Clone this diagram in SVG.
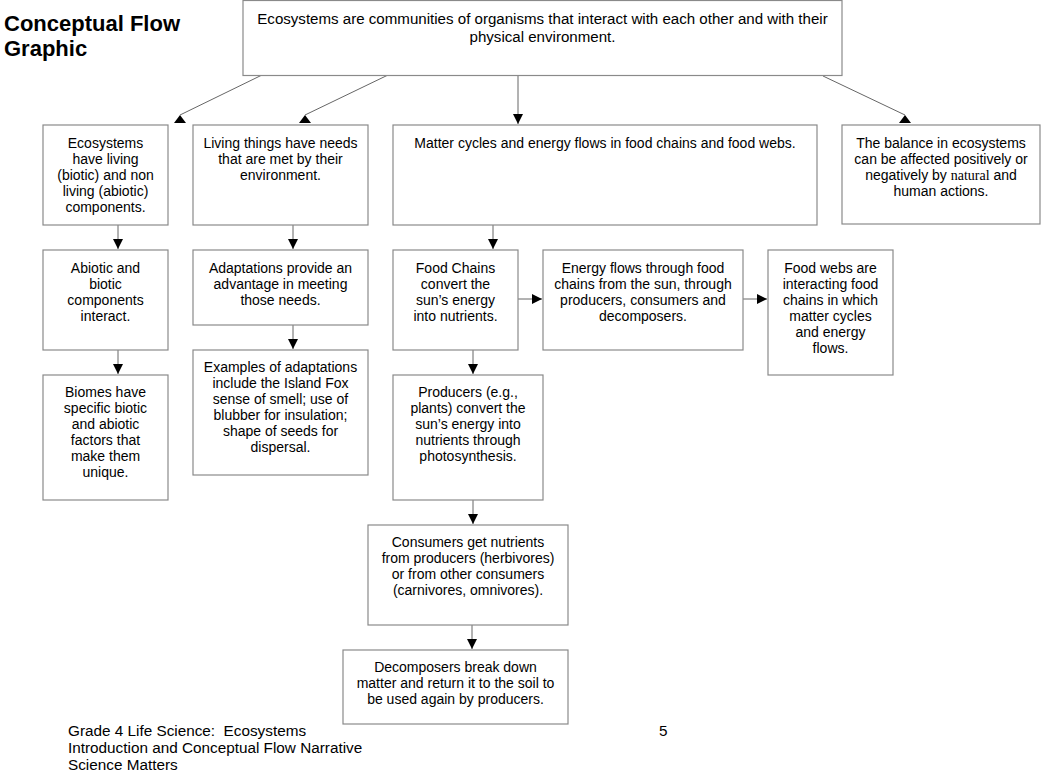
<svg xmlns="http://www.w3.org/2000/svg" width="1045" height="779" viewBox="0 0 1045 779">
<style>
.bg{fill:#ffffff}
.box{fill:#ffffff;stroke:#8a8a8a;stroke-width:1.2}
.t{font-family:"Liberation Sans",Arial,sans-serif;font-size:14px;fill:#000;text-anchor:middle}
.tt{font-family:"Liberation Sans",Arial,sans-serif;font-size:15.1px;fill:#000;text-anchor:middle}
.serif{font-family:"Liberation Serif","Times New Roman",serif}
.title{font-family:"Liberation Sans",Arial,sans-serif;font-size:22px;font-weight:bold;fill:#000}
.foot{font-family:"Liberation Sans",Arial,sans-serif;font-size:15.3px;fill:#000}
.ln{stroke:#666;stroke-width:1;fill:none}
.arr{marker-end:url(#ah)}
.up{marker-end:url(#ahup)}
</style>
<defs>
<marker id="ah" viewBox="0 0 10 10" refX="10" refY="5" markerWidth="10" markerHeight="10" markerUnits="userSpaceOnUse" orient="auto">
<path d="M0,0 L10,5 L0,10 z" fill="#000"/>
</marker>
<marker id="ahup" viewBox="0 0 8 12" refX="8" refY="6" markerWidth="8" markerHeight="12" markerUnits="userSpaceOnUse" orient="-90">
<path d="M0,0 L8,6 L0,12 z" fill="#000"/>
</marker>
</defs>
<rect class="bg" x="0" y="0" width="1045" height="779"/>

<g id="title">
<text class="title" x="4" y="31">Conceptual Flow</text>
<text class="title" x="4" y="56">Graphic</text>
</g>

<g id="connectors">
<line class="ln up" x1="262" y1="75" x2="180" y2="115"/>
<line class="ln up" x1="388" y1="75" x2="305" y2="115"/>
<line class="ln arr" x1="518" y1="75" x2="518" y2="124"/>
<line class="ln up" x1="823" y1="76" x2="905" y2="115"/>
<line class="ln arr" x1="118" y1="225" x2="118" y2="249"/>
<line class="ln arr" x1="293" y1="225" x2="293" y2="249"/>
<line class="ln arr" x1="493" y1="225" x2="493" y2="249"/>
<line class="ln arr" x1="118" y1="350" x2="118" y2="374"/>
<line class="ln arr" x1="293" y1="325" x2="293" y2="349"/>
<line class="ln arr" x1="518" y1="299" x2="542" y2="299"/>
<line class="ln arr" x1="743" y1="299" x2="767" y2="299"/>
<line class="ln arr" x1="473" y1="350" x2="473" y2="374"/>
<line class="ln arr" x1="473" y1="500" x2="473" y2="524"/>
<line class="ln arr" x1="472" y1="625" x2="472" y2="649"/>
</g>

<g id="n-top">
<rect class="box" x="243" y="0.5" width="599" height="75"/>
<text class="tt" x="542.5" y="24">Ecosystems are communities of organisms that interact with each other and with their</text>
<text class="tt" x="542.5" y="42">physical environment.</text>
</g>

<g id="n-biotic">
<rect class="box" x="43" y="125" width="125" height="100"/>
<text class="t" x="105.5" y="148">Ecosystems</text>
<text class="t" x="105.5" y="164">have living</text>
<text class="t" x="105.5" y="180">(biotic) and non</text>
<text class="t" x="105.5" y="196">living (abiotic)</text>
<text class="t" x="105.5" y="212">components.</text>
</g>

<g id="n-needs">
<rect class="box" x="193" y="125" width="175" height="100"/>
<text class="t" x="280.5" y="148">Living things have needs</text>
<text class="t" x="280.5" y="164">that are met by their</text>
<text class="t" x="280.5" y="180">environment.</text>
</g>

<g id="n-matter">
<rect class="box" x="393" y="125" width="424" height="100"/>
<text class="t" x="605" y="148">Matter cycles and energy flows in food chains and food webs.</text>
</g>

<g id="n-balance">
<rect class="box" x="842" y="125" width="198" height="99"/>
<text class="t" x="941" y="148">The balance in ecosystems</text>
<text class="t" x="941" y="164">can be affected positively or</text>
<text class="t" x="941" y="180">negatively by <tspan class="serif">natural</tspan> and</text>
<text class="t" x="941" y="196">human actions.</text>
</g>

<g id="n-abiotic">
<rect class="box" x="43" y="250" width="125" height="100"/>
<text class="t" x="105.5" y="273">Abiotic and</text>
<text class="t" x="105.5" y="289">biotic</text>
<text class="t" x="105.5" y="305">components</text>
<text class="t" x="105.5" y="321">interact.</text>
</g>

<g id="n-biomes">
<rect class="box" x="43" y="375" width="125" height="125"/>
<text class="t" x="105.5" y="397">Biomes have</text>
<text class="t" x="105.5" y="413">specific biotic</text>
<text class="t" x="105.5" y="429">and abiotic</text>
<text class="t" x="105.5" y="445">factors that</text>
<text class="t" x="105.5" y="461">make them</text>
<text class="t" x="105.5" y="477">unique.</text>
</g>

<g id="n-adapt">
<rect class="box" x="193" y="250" width="175" height="75"/>
<text class="t" x="280.5" y="273">Adaptations provide an</text>
<text class="t" x="280.5" y="289">advantage in meeting</text>
<text class="t" x="280.5" y="305">those needs.</text>
</g>

<g id="n-examples">
<rect class="box" x="193" y="350" width="175" height="125"/>
<text class="t" x="280.5" y="372">Examples of adaptations</text>
<text class="t" x="280.5" y="388">include the Island Fox</text>
<text class="t" x="280.5" y="404">sense of smell; use of</text>
<text class="t" x="280.5" y="420">blubber for insulation;</text>
<text class="t" x="280.5" y="436">shape of seeds for</text>
<text class="t" x="280.5" y="452">dispersal.</text>
</g>

<g id="n-foodchains">
<rect class="box" x="393" y="250" width="125" height="100"/>
<text class="t" x="455.5" y="273">Food Chains</text>
<text class="t" x="455.5" y="289">convert the</text>
<text class="t" x="455.5" y="305">sun’s energy</text>
<text class="t" x="455.5" y="321">into nutrients.</text>
</g>

<g id="n-energy">
<rect class="box" x="543" y="250" width="200" height="100"/>
<text class="t" x="643" y="273">Energy flows through food</text>
<text class="t" x="643" y="289">chains from the sun, through</text>
<text class="t" x="643" y="305">producers, consumers and</text>
<text class="t" x="643" y="321">decomposers.</text>
</g>

<g id="n-foodwebs">
<rect class="box" x="768" y="250" width="125" height="125"/>
<text class="t" x="830.5" y="273">Food webs are</text>
<text class="t" x="830.5" y="289">interacting food</text>
<text class="t" x="830.5" y="305">chains in which</text>
<text class="t" x="830.5" y="321">matter cycles</text>
<text class="t" x="830.5" y="337">and energy</text>
<text class="t" x="830.5" y="353">flows.</text>
</g>

<g id="n-producers">
<rect class="box" x="393" y="375" width="150" height="125"/>
<text class="t" x="468" y="397">Producers (e.g.,</text>
<text class="t" x="468" y="413">plants) convert the</text>
<text class="t" x="468" y="429">sun’s energy into</text>
<text class="t" x="468" y="445">nutrients through</text>
<text class="t" x="468" y="461">photosynthesis.</text>
</g>

<g id="n-consumers">
<rect class="box" x="368" y="525" width="200" height="100"/>
<text class="t" x="468" y="547">Consumers get nutrients</text>
<text class="t" x="468" y="563">from producers (herbivores)</text>
<text class="t" x="468" y="579">or from other consumers</text>
<text class="t" x="468" y="595">(carnivores, omnivores).</text>
</g>

<g id="n-decomposers">
<rect class="box" x="343" y="650" width="225" height="74"/>
<text class="t" x="455.5" y="672">Decomposers break down</text>
<text class="t" x="455.5" y="688">matter and return it to the soil to</text>
<text class="t" x="455.5" y="704">be used again by producers.</text>
</g>

<g id="footer">
<text class="foot" x="68" y="736" xml:space="preserve">Grade 4 Life Science:  Ecosystems</text>
<text class="foot" x="68" y="753">Introduction and Conceptual Flow Narrative</text>
<text class="foot" x="68" y="770">Science Matters</text>
<text class="foot" x="659" y="736">5</text>
</g>
</svg>
